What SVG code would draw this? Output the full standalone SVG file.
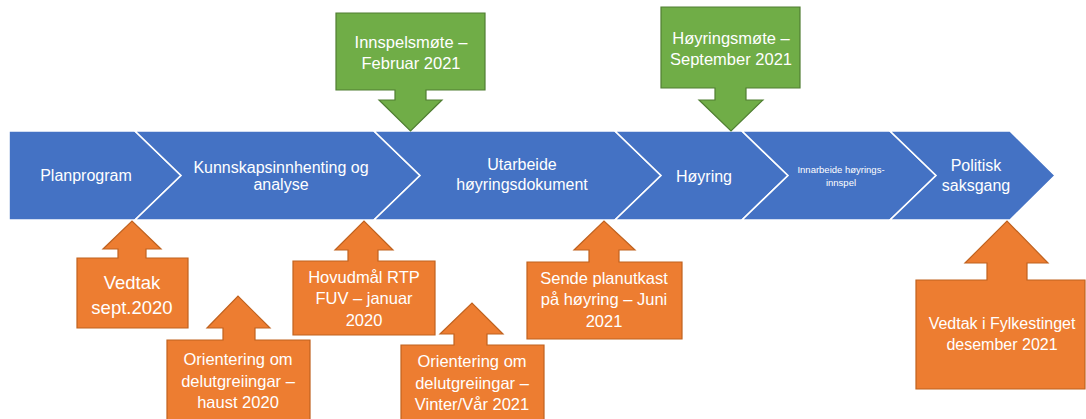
<svg xmlns="http://www.w3.org/2000/svg" width="1086" height="419" viewBox="0 0 1086 419">
<style>
.chev{fill:#4472C4;stroke:#FFFFFF;stroke-width:1.6;stroke-linejoin:miter}
.org{fill:#ED7D31;stroke:#C0621F;stroke-width:1.2}
.grn{fill:#70AD47;stroke:#507E32;stroke-width:1.2}
text{font-family:"Liberation Sans",Arial,sans-serif;fill:#FFFFFF;text-anchor:middle}
.t16{font-size:16px}
.t165{font-size:16.5px}
.t18{font-size:18.5px}
.t9{font-size:9.5px}
</style>
<rect width="1086" height="419" fill="#FFFFFF"/>
<g id="connectors"/>
<g id="planprogram">
<path class="chev" d="M9,131 H135 L181,175.5 L135,220 H9 Z"/>
<text class="t16" x="86" y="181">Planprogram</text>
</g>
<g id="kunnskap">
<path class="chev" d="M135,131 H374 L420,175.5 L374,220 H135 L181,175.5 Z"/>
<text class="t16" x="281" y="173">Kunnskapsinnhenting og</text>
<text class="t16" x="281" y="190">analyse</text>
</g>
<g id="utarbeide">
<path class="chev" d="M374,131 H615 L661,175.5 L615,220 H374 L420,175.5 Z"/>
<text class="t16" x="522" y="170">Utarbeide</text>
<text class="t16" x="522" y="190">høyringsdokument</text>
</g>
<g id="hoyring">
<path class="chev" d="M615,131 H742 L788,175.5 L742,220 H615 L661,175.5 Z"/>
<text class="t16" x="704" y="182">Høyring</text>
</g>
<g id="innarbeide">
<path class="chev" d="M742,131 H890 L936,175.5 L890,220 H742 L788,175.5 Z"/>
<text class="t9" x="841" y="173">Innarbeide høyrings-</text>
<text class="t9" x="841" y="186">innspel</text>
</g>
<g id="politisk">
<path class="chev" d="M890,131 H1010 L1055,175.5 L1010,220 H890 L936,175.5 Z"/>
<text class="t16" x="976" y="171">Politisk</text>
<text class="t16" x="976" y="191">saksgang</text>
</g>
<g id="innspelsmote">
<path class="grn" d="M336,13 H485 V90 H426 V100 H442 L410.5,131 L379,100 H395 V90 H336 Z"/>
<text class="t165" x="411" y="48">Innspelsmøte –</text>
<text class="t165" x="411" y="69">Februar 2021</text>
</g>
<g id="hoyringsmote">
<path class="grn" d="M661,7 H800 V88 H746 V100 H763 L731,131 L699,100 H715 V88 H661 Z"/>
<text class="t165" x="731" y="44">Høyringsmøte –</text>
<text class="t165" x="731" y="65">September 2021</text>
</g>
<g id="vedtak-sept">
<path class="org" d="M77,258 H118 V249 H103 L132,221 L161,249 H146 V258 H188 V328 H77 Z"/>
<text class="t18" x="132" y="289">Vedtak</text>
<text class="t18" x="132" y="314">sept.2020</text>
</g>
<g id="hovudmal">
<path class="org" d="M293,261 H348 V250 H335 L364,221 L393,250 H378 V261 H435 V335 H293 Z"/>
<text class="t165" x="364" y="283">Hovudmål RTP</text>
<text class="t165" x="364" y="304">FUV – januar</text>
<text class="t165" x="364" y="326">2020</text>
</g>
<g id="orientering-haust">
<path class="org" d="M167,340 H223 V328 H207 L238,296 L270,328 H255 V340 H310 V425 H167 Z"/>
<text class="t165" x="238" y="365">Orientering om</text>
<text class="t165" x="238" y="387">delutgreiingar –</text>
<text class="t165" x="238" y="408">haust 2020</text>
</g>
<g id="orientering-vinter">
<path class="org" d="M401,345 H454 V334 H440 L472,303 L503,334 H487 V345 H544 V425 H401 Z"/>
<text class="t165" x="472" y="367">Orientering om</text>
<text class="t165" x="472" y="389">delutgreiingar –</text>
<text class="t165" x="472" y="410">Vinter/Vår 2021</text>
</g>
<g id="sende-planutkast">
<path class="org" d="M527,262 H589 V250 H574 L604,221 L635,250 H619 V262 H682 V339 H527 Z"/>
<text class="t165" x="604" y="284">Sende planutkast</text>
<text class="t165" x="604" y="305">på høyring – Juni</text>
<text class="t165" x="604" y="327">2021</text>
</g>
<g id="vedtak-fylkestinget">
<path class="org" d="M916,280 H987 V263 H965 L1007,221 L1048,263 H1027 V280 H1085 V389 H916 Z"/>
<text class="t16" x="1002" y="329">Vedtak i Fylkestinget</text>
<text class="t16" x="1002" y="350">desember 2021</text>
</g>
</svg>
